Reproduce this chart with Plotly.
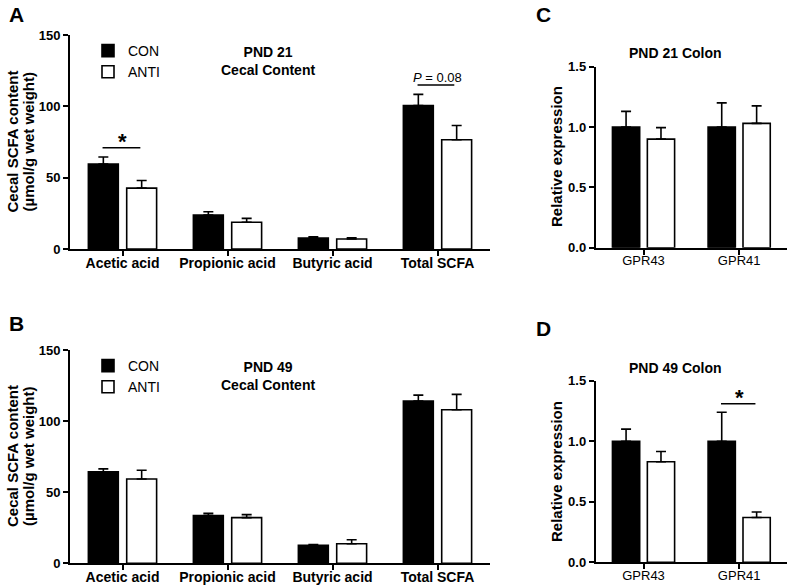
import plotly.graph_objects as go

# ---------------- data ----------------
scfa_categories = ["Acetic acid", "Propionic acid", "Butyric acid", "Total SCFA"]
pnd21_con = [59.6, 23.8, 7.7, 100.6]
pnd21_con_sem = [4.9, 2.3, 0.9, 7.8]
pnd21_anti = [42.7, 18.7, 7.0, 76.6]
pnd21_anti_sem = [5.3, 2.8, 0.8, 10.0]
pnd49_con = [64.4, 33.5, 12.6, 114.1]
pnd49_con_sem = [2.0, 1.6, 0.5, 4.2]
pnd49_anti = [59.3, 32.1, 13.7, 108.0]
pnd49_anti_sem = [6.1, 2.1, 2.9, 10.8]

gene_categories = ["GPR43", "GPR41"]
colon21_con = [1.0, 1.0]
colon21_con_sem = [0.13, 0.20]
colon21_anti = [0.90, 1.03]
colon21_anti_sem = [0.095, 0.145]
colon49_con = [1.0, 1.0]
colon49_con_sem = [0.10, 0.24]
colon49_anti = [0.83, 0.37]
colon49_anti_sem = [0.085, 0.045]

scfa_ticks = [0, 50, 100, 150]
expr_ticks = [0.0, 0.5, 1.0, 1.5]

W, H = 787, 588
FONT = "Liberation Sans, Arial, sans-serif"
BAR_W = 0.285
OFF_CON = -0.325
OFF_ANTI = 0.04

def px_x(p):
    return p / W

def px_y(p):
    return 1 - p / H

fig = go.Figure()

def add_pair(xa, ya, cats, con, con_sem, anti, anti_sem, legend=None):
    show = legend is not None
    for name, vals, sem, fill, off in (("CON", con, con_sem, "black", OFF_CON),
                                       ("ANTI", anti, anti_sem, "white", OFF_ANTI)):
        kw = dict(legend=legend) if show else {}
        fig.add_trace(go.Bar(
            x=cats, y=vals, name=name, xaxis=xa, yaxis=ya,
            width=BAR_W, offset=off,
            marker=dict(color=fill, line=dict(color="black", width=1.6)),
            error_y=dict(type="data", array=sem, arrayminus=[0] * len(sem),
                         symmetric=False, color="black", thickness=1.6, width=5),
            showlegend=show, **kw))

add_pair("x", "y", scfa_categories, pnd21_con, pnd21_con_sem, pnd21_anti, pnd21_anti_sem, "legend")
add_pair("x2", "y2", scfa_categories, pnd49_con, pnd49_con_sem, pnd49_anti, pnd49_anti_sem, "legend2")
add_pair("x3", "y3", gene_categories, colon21_con, colon21_con_sem, colon21_anti, colon21_anti_sem)
add_pair("x4", "y4", gene_categories, colon49_con, colon49_con_sem, colon49_anti, colon49_anti_sem)

axis_common = dict(showgrid=False, zeroline=False, showline=True, linecolor="black",
                   linewidth=1.8, ticks="outside", tickcolor="black", tickwidth=1.6,
                   ticklen=5, automargin=False)

xfont_bold = dict(family=FONT, size=14, color="black", weight="bold")
xfont_reg = dict(family=FONT, size=13, color="black")
yfont = dict(family=FONT, size=13, color="black", weight="bold")

layout_axes = dict(
    xaxis=dict(domain=[px_x(70), px_x(490)], range=[-0.5, 3.5], anchor="y",
               tickfont=xfont_bold, ticklabelstandoff=-5, **axis_common),
    yaxis=dict(domain=[px_y(249), px_y(35)], range=[0, 150], anchor="x",
               tickvals=scfa_ticks, tickfont=yfont, **axis_common),
    xaxis2=dict(domain=[px_x(70), px_x(490)], range=[-0.5, 3.5], anchor="y2",
                tickfont=xfont_bold, ticklabelstandoff=-5, **axis_common),
    yaxis2=dict(domain=[px_y(563.3), px_y(350)], range=[0, 150], anchor="x2",
                tickvals=scfa_ticks, tickfont=yfont, **axis_common),
    xaxis3=dict(domain=[px_x(595.7), 1.0], range=[-0.5, 1.5], anchor="y3",
                tickfont=xfont_reg, ticklabelstandoff=-5, **axis_common),
    yaxis3=dict(domain=[px_y(247.7), px_y(66.7)], range=[0, 1.5], anchor="x3",
                tickvals=expr_ticks, tickformat=".1f", tickfont=yfont, **axis_common),
    xaxis4=dict(domain=[px_x(595.7), 1.0], range=[-0.5, 1.5], anchor="y4",
                tickfont=xfont_reg, ticklabelstandoff=-5, **axis_common),
    yaxis4=dict(domain=[px_y(562.3), px_y(380.7)], range=[0, 1.5], anchor="x4",
                tickvals=expr_ticks, tickformat=".1f", tickfont=yfont, **axis_common),
)

legend_style = dict(font=dict(family=FONT, size=14, color="black"),
                    bgcolor="rgba(0,0,0,0)", xanchor="left", yanchor="top",
                    traceorder="normal")

fig.update_layout(
    width=W, height=H, margin=dict(l=0, r=0, t=0, b=0),
    paper_bgcolor="white", plot_bgcolor="white",
    barmode="overlay",
    font=dict(family=FONT, color="black"),
    legend=dict(x=px_x(88), y=px_y(35), **legend_style),
    legend2=dict(x=px_x(88), y=px_y(350), **legend_style),
    **layout_axes,
)

annots = []
def ann(text, x, y, size=14, bold=True, angle=0):
    annots.append(dict(text=text, x=x, y=y, xref="paper", yref="paper",
                       showarrow=False, xanchor="center", yanchor="middle",
                       textangle=angle,
                       font=dict(family=FONT, size=size, color="black",
                                 weight="bold" if bold else "normal")))

# panel letters
ann("A", px_x(16), px_y(14), size=21)
ann("B", px_x(16), px_y(323), size=21)
ann("C", px_x(543), px_y(15), size=21)
ann("D", px_x(543), px_y(328), size=21)
# panel titles
ann("PND 21<br>Cecal Content", px_x(268), px_y(61), size=14)
ann("PND 49<br>Cecal Content", px_x(268), px_y(375.5), size=14)
ann("PND 21 Colon", px_x(675), px_y(53), size=14)
ann("PND 49 Colon", px_x(675), px_y(368), size=14)
# y-axis titles
for yc in (142, 456.5):
    ann("Cecal SCFA content", px_x(12.5), px_y(yc), size=15, angle=-90)
    ann("(µmol/g wet weight)", px_x(28.5), px_y(yc), size=15, angle=-90)
ann("Relative expression", px_x(556.5), px_y(156.5), size=15, angle=-90)
ann("Relative expression", px_x(556.5), px_y(471.5), size=15, angle=-90)

# significance markers (data coordinates)
sig_lines = [("x", "y", 0, 71), ("x4", "y4", 1, 1.31)]
for xa, ya, idx, yv in sig_lines:
    fig.add_shape(type="line", xref=xa, yref=ya, x0=idx - 0.19, x1=idx + 0.17,
                  y0=yv, y1=yv, line=dict(color="black", width=1.6))
    annots.append(dict(text="*", x=idx, y=yv, xref=xa, yref=ya, showarrow=False,
                       yanchor="bottom", yshift=-8,
                       font=dict(family=FONT, size=22, color="black", weight="bold")))
fig.add_shape(type="line", xref="x", yref="y", x0=3 - 0.19, x1=3 + 0.16,
              y0=115, y1=115, line=dict(color="black", width=1.6))
annots.append(dict(text="<i>P</i> = 0.08", x=3, y=115, xref="x", yref="y",
                   showarrow=False, yanchor="bottom", yshift=-2,
                   font=dict(family=FONT, size=13, color="black")))

fig.update_layout(annotations=annots)
fig.write_html("out.html", config={"displayModeBar": False},
               post_script="document.body.style.margin='0';document.body.style.overflow='hidden';")
